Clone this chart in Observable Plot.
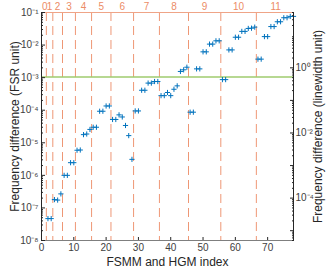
<!DOCTYPE html>
<html><head><meta charset="utf-8">
<script src="https://cdn.jsdelivr.net/npm/d3@7"></script>
<script src="https://cdn.jsdelivr.net/npm/@observablehq/plot@0.6"></script>
<style>html,body{margin:0;padding:0;background:#fff}</style>
</head><body><div id="chart"></div>
<script>
// Mode index (index 1 = reference mode, zero difference, not shown)
const modeIndex = d3.range(2, 79);
// Frequency difference in FSR units
const freqDiff = [
  4.7e-8, 4.7e-8, 1.80e-7, 1.74e-7, 2.7e-7, 1.0e-6, 1.0e-6, 2.45e-6, 2.45e-6,
  5.9e-6, 6.0e-6, 1.78e-5, 1.86e-5, 2.57e-5, 3.0e-5, 3.0e-5, 9.3e-5, 9.3e-5,
  1.35e-4, 1.35e-4, 5.2e-5, 5.2e-5, 7.2e-5, 6.2e-5, 3.4e-5, 1.66e-5, 3.1e-6,
  9.5e-5, 9.5e-5, 4.1e-4, 4.1e-4, 6.8e-4, 6.8e-4, 7.6e-4, 7.6e-4, 2.8e-4,
  2.8e-4, 3.5e-4, 2.8e-4, 4.4e-4, 5.6e-4, 1.55e-3, 1.74e-3, 2.09e-3, 8.7e-5,
  8.7e-5, 1.86e-3, 1.86e-3, 6.2e-3, 6.2e-3, 1.07e-2, 1.07e-2, 1.35e-2, 1.35e-2,
  8.7e-4, 8.7e-4, 7.1e-3, 7.1e-3, 1.74e-2, 1.74e-2, 2.63e-2, 2.63e-2, 3.24e-2,
  3.3e-2, 3.55e-2, 3.7e-3, 3.7e-3, 1.82e-2, 1.82e-2, 3.7e-2, 3.7e-2, 5.2e-2,
  5.2e-2, 6.9e-2, 6.9e-2, 7.6e-2, 7.6e-2
];
// HGM order groups
const groupLabels = [0,1,2,3,4,5,6,7,8,9,10,11];
const groupStart  = [1,2,4,7,11,16,22,29,37,46,56,67];
const groupEnd    = [1,3,6,10,15,21,28,36,45,55,66,78];
// threshold line (FSR unit)
const threshold = [1.05e-3];
// one linewidth expressed in FSR units
const linewidthFSR = 2e-3;
// tick values
const xTicks = [0,10,20,30,40,50,60,70];
const leftExp = [-1,-2,-3,-4,-5,-6,-7,-8];
const rightExp = [0,-1,-2,-3,-4,-5];
const rightLabelExp = [0,-2,-4];

const data = modeIndex.map((i, k) => ({i, v: freqDiff[k]}));
const groups = groupLabels.map((g, k) => ({g, c: (groupStart[k] + groupEnd[k]) / 2}));
const bounds = groupEnd.slice(0, -1).map(e => e + 0.5);

const supMap = {"-":"⁻","0":"⁰","1":"¹","2":"²","3":"³","4":"⁴","5":"⁵","6":"⁶","7":"⁷","8":"⁸","9":"⁹"};
const sup = n => "10" + String(n).split("").map(c => supMap[c]).join("");

const yMin = 1e-8, yMax = 1e-1;
const leftMajor = leftExp.map(e => 10 ** e);
const leftMinor = [];
for (let e = -8; e < -1; e++) for (let m = 2; m <= 9; m++) leftMinor.push(m * 10 ** e);
const rightMajor = rightExp.map(e => linewidthFSR * 10 ** e).filter(v => v >= yMin && v <= yMax);
const rightMinor = [];
for (let e = -6; e <= 1; e++) for (let m = 2; m <= 9; m++) {
  const v = linewidthFSR * m * 10 ** e;
  if (v >= yMin && v <= yMax) rightMinor.push(v);
}
const rightLabels = rightLabelExp.map(e => ({v: linewidthFSR * 10 ** e, t: sup(e)}));

const plusSymbol = {
  draw(ctx, size) {
    const r = Math.sqrt(size / Math.PI);
    ctx.moveTo(-r, 0); ctx.lineTo(r, 0);
    ctx.moveTo(0, -r); ctx.lineTo(0, r);
  }
};

const orange = "#EC8C66";
const axisCol = "#262626";
const textCol = "#404040";

const chart = Plot.plot({
  width: 335,
  height: 275,
  marginLeft: 41,
  marginRight: 42,
  marginTop: 12,
  marginBottom: 35,
  style: {fontFamily: "Liberation Sans, Arial, sans-serif", fontSize: "10px", color: textCol, background: "#fff"},
  x: {domain: [0, 78], axis: null},
  y: {type: "log", domain: [yMin, yMax], axis: null},
  marks: [
    Plot.ruleX(bounds, {stroke: orange, strokeWidth: 1, strokeDasharray: "9,5", strokeOpacity: 0.9}),
    Plot.ruleY(threshold, {stroke: "#9FCB6E", strokeWidth: 1.5}),
    Plot.dot(data, {x: "i", y: "v", symbol: plusSymbol, r: 2.6, stroke: "#0072BD", strokeWidth: 1, fill: "none"}),
    // frame
    Plot.ruleY([yMax], {stroke: "#EFA487", strokeWidth: 1}),
    Plot.ruleY([yMin], {stroke: "#7f7f7f", strokeWidth: 1}),
    Plot.ruleX([0], {stroke: axisCol, strokeWidth: 1}),
    Plot.ruleX([78], {stroke: axisCol, strokeWidth: 1}),
    // left axis
    Plot.axisY({anchor: "left", label: null, ticks: leftMajor, text: null, tickSize: -4, stroke: axisCol}),
    Plot.axisY({anchor: "left", label: null, ticks: leftMinor, text: null, tickSize: -2, stroke: axisCol}),
    Plot.axisY({anchor: "left", label: null, ticks: leftMajor, tickFormat: v => sup(Math.round(Math.log10(v))), tickSize: 0, tickPadding: 3, fill: textCol, fontSize: 10}),
    // right axis
    Plot.axisY({anchor: "right", label: null, ticks: rightMajor, text: null, tickSize: -4, stroke: axisCol}),
    Plot.axisY({anchor: "right", label: null, ticks: rightMinor, text: null, tickSize: -2, stroke: axisCol}),
    Plot.text(rightLabels, {y: "v", text: "t", frameAnchor: "right", textAnchor: "start", dx: 2, fill: textCol, fontSize: 10}),
    // bottom axis
    Plot.axisX({anchor: "bottom", label: null, ticks: xTicks, text: null, tickSize: -3, stroke: axisCol}),
    Plot.axisX({anchor: "bottom", label: null, ticks: xTicks, tickSize: 0, tickPadding: 3, fill: textCol, fontSize: 10}),
    // top group labels
    Plot.text(groups, {x: "c", frameAnchor: "top", lineAnchor: "middle", dy: -6, text: d => String(d.g), fill: orange, fontSize: 10}),
    // axis titles
    Plot.text(["FSMM and HGM index"], {frameAnchor: "bottom", lineAnchor: "middle", dy: 22, fill: axisCol, fontSize: 12}),
    Plot.text(["Frequency difference (FSR unit)"], {frameAnchor: "left", textAnchor: "middle", lineAnchor: "middle", dx: -26, rotate: -90, fill: axisCol, fontSize: 12}),
    Plot.text(["Frequency difference (linewidth unit)"], {frameAnchor: "right", textAnchor: "middle", lineAnchor: "middle", dx: 25, rotate: -90, fill: axisCol, fontSize: 12})
  ]
});
document.getElementById("chart").appendChild(chart);
</script>
</body></html>
